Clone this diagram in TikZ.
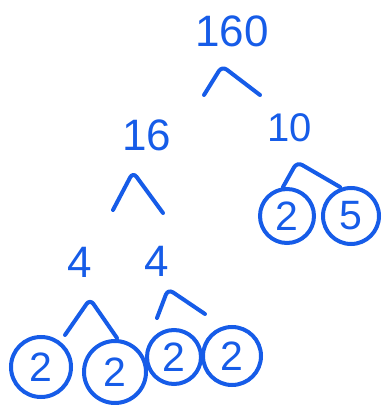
\documentclass[tikz,border=0pt]{standalone}
\usepackage{fontspec}
\setmainfont{Liberation Sans}
\definecolor{ink}{RGB}{22,92,232}
\begin{document}
\begin{tikzpicture}[x=1pt,y=1pt,
  num/.style={text=ink,inner sep=0pt,font=\fontsize{44}{44}\selectfont},
  cnum/.style={text=ink,inner sep=0pt,font=\fontsize{41}{41}\selectfont},
  ring/.style={draw=ink,line width=4pt,circle,inner sep=0pt},
  caret/.style={draw=ink,line width=4pt,line cap=round,line join=round}]
\useasboundingbox (0,0) rectangle (384,405);
% numbers
\node[num] (n160) at (232,374) {160};
\node[num] (n16) at (147,270) {16};
\node[num,font=\fontsize{40}{40}\selectfont] (n10) at (290,277) {10};
\node[num] (n4a) at (80,143) {4};
\node[num] (n4b) at (157,144) {4};
% circled primes
\node[cnum] (p2a) at (287,189) {2};
\node[ring,minimum size=54pt] (r2a) at (287,189) {};
\node[cnum] (p5) at (351,189) {5};
\node[ring,minimum size=56pt] (r5) at (351,189) {};
\node[cnum] (b1) at (41,38) {2};
\node[ring,minimum size=60pt] (rb1) at (41,38) {};
\node[cnum] (b2) at (115,33) {2};
\node[ring,minimum size=62pt] (rb2) at (115,33) {};
\node[cnum] (b3) at (174,48) {2};
\node[ring,minimum size=54pt] (rb3) at (174,48) {};
\node[cnum] (b4) at (232,49) {2};
\node[ring,minimum size=58pt] (rb4) at (232,49) {};
% caret coordinates
\coordinate (a1L) at (204,310); \coordinate (a1T) at (222,339); \coordinate (a1R) at (260,310);
\coordinate (a2L) at (113,195); \coordinate (a2T) at (133,233); \coordinate (a2R) at (163,192);
\coordinate (a3L) at (283,218); \coordinate (a3T) at (297,243); \coordinate (a3R) at (340,218);
\coordinate (a4L) at (65,70);   \coordinate (a4T) at (90,106);  \coordinate (a4R) at (117,67);
\coordinate (a5L) at (157,87);  \coordinate (a5T) at (168,116); \coordinate (a5R) at (205,91);
% carets
\draw[caret,rounded corners=6pt] (a1L) -- (a1T) -- (a1R);
\draw[caret,rounded corners=6pt] (a2L) -- (a2T) -- (a2R);
\draw[caret,rounded corners=6pt] (a3L) -- (a3T) -- (a3R);
\draw[caret,rounded corners=6pt] (a4L) -- (a4T) -- (a4R);
\draw[caret,rounded corners=6pt] (a5L) -- (a5T) -- (a5R);
\end{tikzpicture}
\end{document}
